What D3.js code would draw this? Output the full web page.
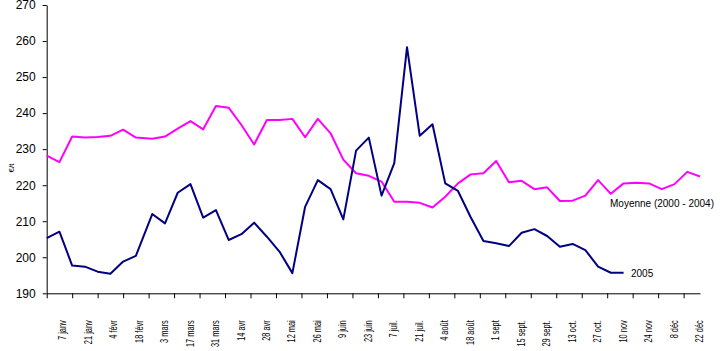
<!DOCTYPE html>
<html>
<head>
<meta charset="utf-8">
<script src="https://cdn.jsdelivr.net/npm/d3@7"></script>
<style>
  body { margin: 0; background: #fff; }
  svg { font-family: "Liberation Sans", Arial, sans-serif; }
</style>
</head>
<body>
<script>
// weekly dates (leap-year 2004 calendar)
const dates = [
  "2004-01-07", "2004-01-14", "2004-01-21", "2004-01-28", "2004-02-04", "2004-02-11", "2004-02-18", "2004-02-25",
  "2004-03-05", "2004-03-12", "2004-03-19", "2004-03-26", "2004-04-02", "2004-04-09", "2004-04-16", "2004-04-23",
  "2004-04-30", "2004-05-07", "2004-05-14", "2004-05-21", "2004-05-28", "2004-06-04", "2004-06-11", "2004-06-18",
  "2004-06-25", "2004-07-02", "2004-07-09", "2004-07-16", "2004-07-23", "2004-07-30", "2004-08-06", "2004-08-13",
  "2004-08-20", "2004-08-27", "2004-09-03", "2004-09-10", "2004-09-17", "2004-09-24", "2004-10-01", "2004-10-08",
  "2004-10-15", "2004-10-22", "2004-10-29", "2004-11-05", "2004-11-12", "2004-11-19", "2004-11-26", "2004-12-03",
  "2004-12-10", "2004-12-17", "2004-12-24", "2004-12-31"
];

// Moyenne (2000 - 2004)
const moyenne = [
  228.2, 226.4, 233.5, 233.2, 233.4, 233.7, 235.4, 233.2,
  232.9, 233.5, 235.7, 237.8, 235.5, 242.0, 241.5, 236.7,
  231.3, 238.1, 238.1, 238.4, 233.3, 238.4, 234.4, 227.1,
  223.3, 222.6, 221.0, 215.4, 215.4, 215.1, 213.8, 216.8,
  220.5, 223.0, 223.3, 226.7, 220.8, 221.2, 218.9, 219.4,
  215.6, 215.7, 217.1, 221.4, 217.6, 220.5, 220.7, 220.5,
  218.9, 220.3, 223.7, 222.4
];

// 2005 (stops mid-November)
const an2005 = [
  205.3, 207.1, 197.7, 197.4, 196.0, 195.4, 198.8, 200.4,
  212.0, 209.4, 217.9, 220.3, 211.0, 213.1, 204.8, 206.4,
  209.6, 205.7, 201.5, 195.6, 214.0, 221.4, 218.9, 210.5,
  229.6, 233.2, 217.1, 226.1, 258.3, 233.7, 236.9, 220.5,
  218.4, 211.1, 204.5, 203.9, 203.1, 206.8, 207.8, 205.9,
  202.9, 203.7, 202.0, 197.4, 195.7, 195.7
];

const tickDates = [
  "2004-01-07", "2004-01-21", "2004-02-04", "2004-02-18", "2004-03-03", "2004-03-17", "2004-03-31",
  "2004-04-14", "2004-04-28", "2004-05-12", "2004-05-26", "2004-06-09", "2004-06-23", "2004-07-07",
  "2004-07-21", "2004-08-04", "2004-08-18", "2004-09-01", "2004-09-15", "2004-09-29", "2004-10-13",
  "2004-10-27", "2004-11-10", "2004-11-24", "2004-12-08", "2004-12-22"
];
const tickLabels = [
  "7 janv", "21 janv", "4 févr", "18 févr", "3 mars", "17 mars", "31 mars",
  "14 avr", "28 avr", "12 mai", "26 mai", "9 juin", "23 juin", "7 juil.",
  "21 juil.", "4 août", "18 août", "1 sept", "15 sept.", "29 sept.", "13 oct.",
  "27 oct.", "10 nov", "24 nov", "8 déc", "22 déc"
];
const yTicks = [190, 200, 210, 220, 230, 240, 250, 260, 270];

const parse = d3.timeParse("%Y-%m-%d");
const width = 720, height = 351;

const svg = d3.select("body").append("svg")
  .attr("width", width)
  .attr("height", height);

const xScale = d3.scaleTime()
  .domain([parse(dates[0]), parse(dates[dates.length - 1])])
  .range([46.7, 700]);

const yScale = d3.scaleLinear()
  .domain([190, 270])
  .range([293.3, 5]);

// y axis
const yAxis = d3.axisLeft(yScale)
  .tickValues(yTicks)
  .tickSize(4)
  .tickSizeOuter(0)
  .tickPadding(7);

const gy = svg.append("g")
  .attr("transform", "translate(46.7,0)")
  .call(yAxis);
gy.selectAll("text").attr("font-size", 12).attr("fill", "#000");
gy.selectAll("line, path").attr("stroke", "#000");

// x axis
const labelOf = new Map(tickDates.map((d, i) => [+parse(d), tickLabels[i]]));
const xAxis = d3.axisBottom(xScale)
  .tickValues(tickDates.map(parse))
  .tickSize(5)
  .tickSizeOuter(0)
  .tickFormat((d) => labelOf.get(+d));

const gx = svg.append("g")
  .attr("transform", "translate(0,293.3)")
  .call(xAxis);
gx.selectAll("line, path").attr("stroke", "#000");
gx.selectAll("text")
  .attr("font-size", 10)
  .attr("fill", "#000")
  .attr("text-anchor", "end")
  .attr("dy", null)
  .attr("y", 0)
  .attr("transform", "translate(19,27) rotate(-90) scale(0.74,1)");

// y axis title (mostly hidden in the original)
svg.append("text")
  .attr("transform", "translate(14,168) rotate(-90)")
  .attr("text-anchor", "middle")
  .attr("font-size", 8)
  .text("€/t");

// lines
const lineGen = d3.line()
  .x((d, i) => xScale(parse(dates[i])))
  .y((d) => yScale(d));

svg.append("path")
  .attr("d", lineGen(moyenne))
  .attr("fill", "none")
  .attr("stroke", "#ff00ff")
  .attr("stroke-width", 2)
  .attr("stroke-linejoin", "round");

svg.append("path")
  .attr("d", lineGen(an2005))
  .attr("fill", "none")
  .attr("stroke", "#000080")
  .attr("stroke-width", 2)
  .attr("stroke-linejoin", "round");

// series labels
svg.append("text")
  .attr("x", 610)
  .attr("y", 206.5)
  .attr("font-size", 10)
  .text("Moyenne (2000 - 2004)");

svg.append("text")
  .attr("x", 631)
  .attr("y", 276.5)
  .attr("font-size", 10)
  .text("2005");
</script>
</body>
</html>
